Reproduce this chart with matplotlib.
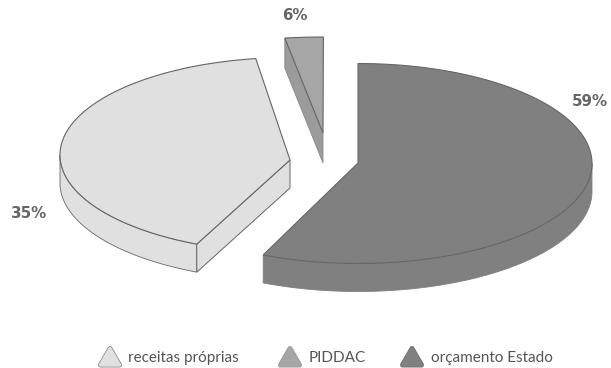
import numpy as np
import matplotlib
matplotlib.use("Agg")
import matplotlib.pyplot as plt

# data
categories = ['orçamento Estado', 'receitas próprias', 'PIDDAC']
percent = [59, 35, 6]

# the picture is a foreshortened 3D pie, so the drawn angle is not quite value*3.6
stretch = [0.96, 1.171, 0.40]
colors = ['#808080', '#e0e0e0', '#a6a6a6']
apex = [(358, 163), (290, 160), (323, 133)]
ellipse_c = [(358, 163.5), (290, 155), (323, 133)]
radii = [(234, 100), (230, 97.5), (257, 96)]
depth = [28, 28, 30]
edge = '#666666'

label_pos = [(590, 102), (29, 214), (295, 16)]
legend_order = [1, 2, 0]
legend_marker_x = [110, 290, 412]
legend_text_x = [128, 309, 431]
legend_edge = ['#8c8c8c', '#999999', '#707070']
tri_x = np.array([-9.5, 9.5, 0])
tri_y = np.array([8, 8, -8.5])


def arc(i, a0, a1):
    t = np.radians(np.linspace(a0, a1, 120))
    cx, cy = ellipse_c[i]
    rx, ry = radii[i]
    return cx + rx * np.sin(t), cy - ry * np.cos(t)


def draw_slice(ax, i, a0, a1):
    x, y = arc(i, a0, a1)
    d = depth[i]
    col = colors[i]
    ax_x, ax_y = apex[i]

    # front rim, only the part of the arc that faces the viewer
    f0, f1 = max(a0, 90), min(a1, 270)
    if f1 > f0:
        fx, fy = arc(i, f0, f1)
        ax.fill(np.r_[fx, fx[::-1]], np.r_[fy, fy[::-1] + d], facecolor=col,
                edgecolor=edge if i == 1 else '#808080', lw=0.6, zorder=2)

    # cut faces
    if i == 1:
        ax.fill([ax_x, x[0], x[0], ax_x], [ax_y, y[0], y[0] + d, ax_y + d],
                facecolor=col, edgecolor=edge, lw=0.7, zorder=2)
    if i == 2:
        ax.fill([ax_x, x[0], x[0], ax_x], [ax_y, y[0], y[0] + d, ax_y + d],
                facecolor='#9b9b9b', edgecolor='#8a8a8a', lw=0.6, zorder=2)

    # top face
    ax.fill(np.r_[ax_x, x], np.r_[ax_y, y], facecolor=col, edgecolor=edge,
            lw=0.8, joinstyle='miter', zorder=3)


fig = plt.figure(figsize=(6.11, 3.68), dpi=100)
ax = fig.add_axes([0, 0, 1, 1])
ax.set_xlim(0, 611)
ax.set_ylim(368, 0)
ax.axis('off')

start = 0
for i, p in enumerate(percent):
    end = start + p * 3.6 * stretch[i]
    draw_slice(ax, i, start, end)
    ax.text(label_pos[i][0], label_pos[i][1], f"{p}%", family='DejaVu Sans',
            fontweight='bold', fontsize=10.8, color='#666666', ha='center', va='center')
    start = end

for k, i in enumerate(legend_order):
    # rounded triangle: thick outline first, then the fill on top of it
    ax.fill(legend_marker_x[k] + tri_x, 357 + tri_y, facecolor=legend_edge[k],
            edgecolor=legend_edge[k], lw=3.6, joinstyle='round', clip_on=False)
    ax.fill(legend_marker_x[k] + tri_x, 357 + tri_y, facecolor=colors[i],
            edgecolor=colors[i], lw=2.4, joinstyle='round', clip_on=False)
    ax.text(legend_text_x[k], 358, categories[i], family='Lato',
            fontsize=11, color='#555555', ha='left', va='center')

plt.savefig('out.png', dpi=100)
plt.close()
